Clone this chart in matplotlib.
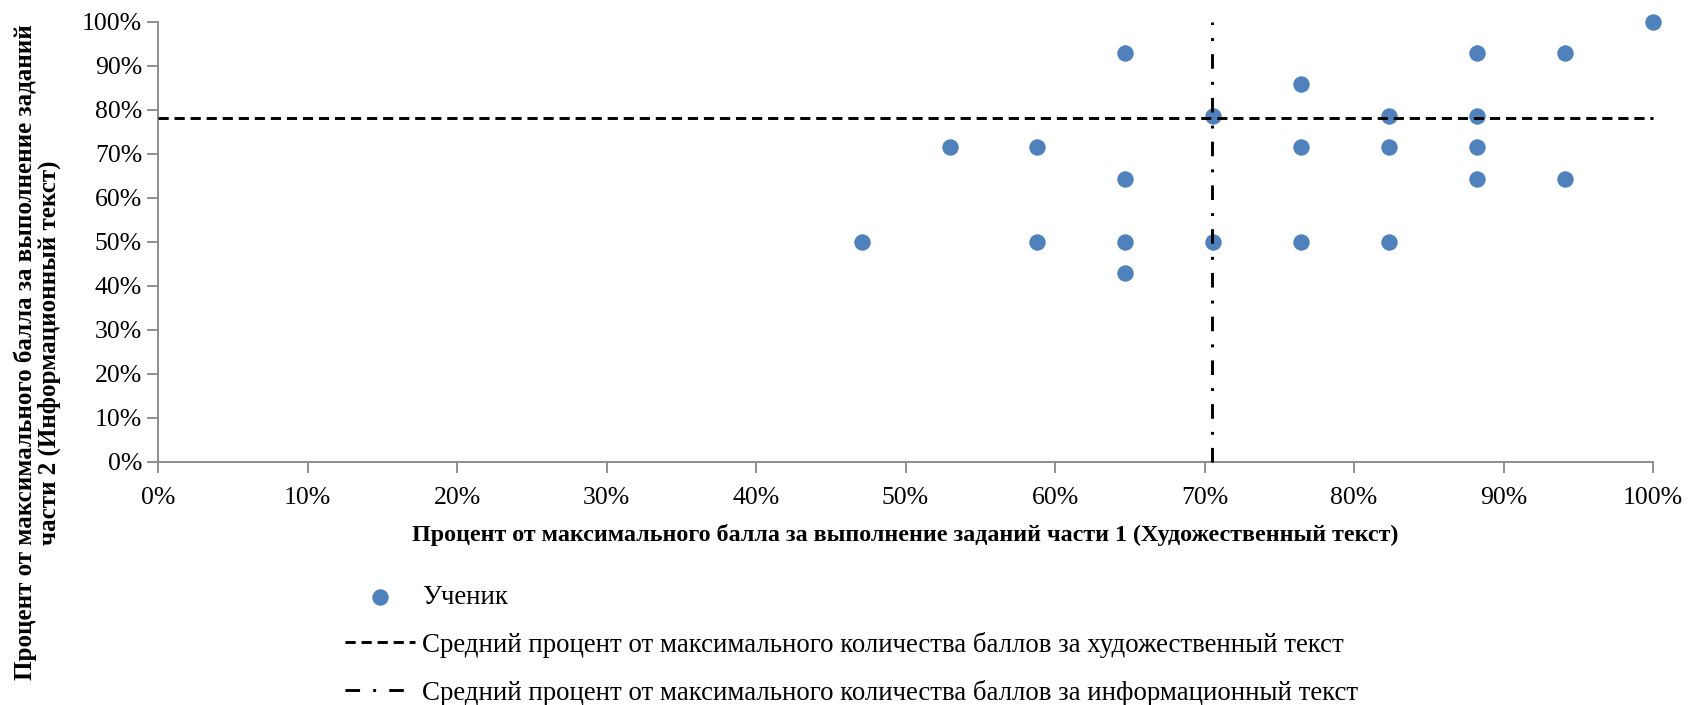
import numpy as np
import matplotlib
matplotlib.use("Agg")
import matplotlib.pyplot as plt
from matplotlib.ticker import PercentFormatter

# scores as fractions: part 1 (x) out of 17, part 2 (y) out of 14
part1 = np.array([8, 9, 10, 10, 11, 11, 11, 11, 12, 12, 13, 13, 13,
                  14, 14, 14, 15, 15, 15, 15, 16, 16, 17]) / 17
part2 = np.array([7, 10, 10, 7, 13, 9, 7, 6, 11, 7, 12, 10, 7,
                  11, 10, 7, 13, 11, 10, 9, 13, 9, 14]) / 14
mean_art = 0.78    # horizontal line
mean_info = 0.705  # vertical line

BLUE = "#4f81bd"; AXC = "#868686"
plt.rcParams["font.family"] = ["Liberation Serif", "DejaVu Serif"]

fig = plt.figure(figsize=(16.88, 7.05), dpi=100)
ax = fig.add_axes([0.0936, 0.3447, 0.8857, 0.6248])

sc = ax.scatter(part1, part2, s=140, color=BLUE, zorder=3, label="Ученик", linewidths=0)
hl, = ax.plot([0, 1], [mean_art, mean_art], color="black", lw=2.1, ls=(0, (3.5, 2)), zorder=4,
              label="Средний процент от максимального количества баллов за художественный текст")
vl, = ax.plot([mean_info, mean_info], [0, 1], color="black", lw=2.1, ls=(0, (5, 4.5, 1, 4.5)), zorder=4,
              label="Средний процент от максимального количества баллов за информационный текст")

ax.set_xlim(0, 1); ax.set_ylim(0, 1)
ax.set_xticks(np.arange(0, 1.01, 0.1)); ax.set_yticks(np.arange(0, 1.01, 0.1))
ax.xaxis.set_major_formatter(PercentFormatter(1.0, decimals=0))
ax.yaxis.set_major_formatter(PercentFormatter(1.0, decimals=0))
for s in ("top", "right"):
    ax.spines[s].set_visible(False)
for s in ("left", "bottom"):
    ax.spines[s].set_color(AXC); ax.spines[s].set_linewidth(1.3)
ax.tick_params(colors=AXC, labelcolor="black", labelsize=18.5, length=8, width=1.3, direction="out")
ax.tick_params(axis="x", pad=10)
ax.set_xlabel("Процент от максимального балла за выполнение заданий части 1 (Художественный текст)",
              fontsize=17.3, fontweight="bold", labelpad=11)
fig.text(0.022, 0.5, "Процент от максимального балла за выполнение заданий\nчасти 2 (Информационный текст)",
         rotation=90, ha="center", va="center", fontsize=18, fontweight="bold", linespacing=1.0)
for a in (sc, hl, vl):
    a.set_clip_on(False)

fig.legend(handles=[sc, hl, vl], loc="upper left", bbox_to_anchor=(0.198, 0.186), frameon=False,
           fontsize=19.4, handlelength=2.6, handletextpad=0.25, labelspacing=0.82, borderaxespad=0)

fig.savefig("out.png", facecolor="white")
